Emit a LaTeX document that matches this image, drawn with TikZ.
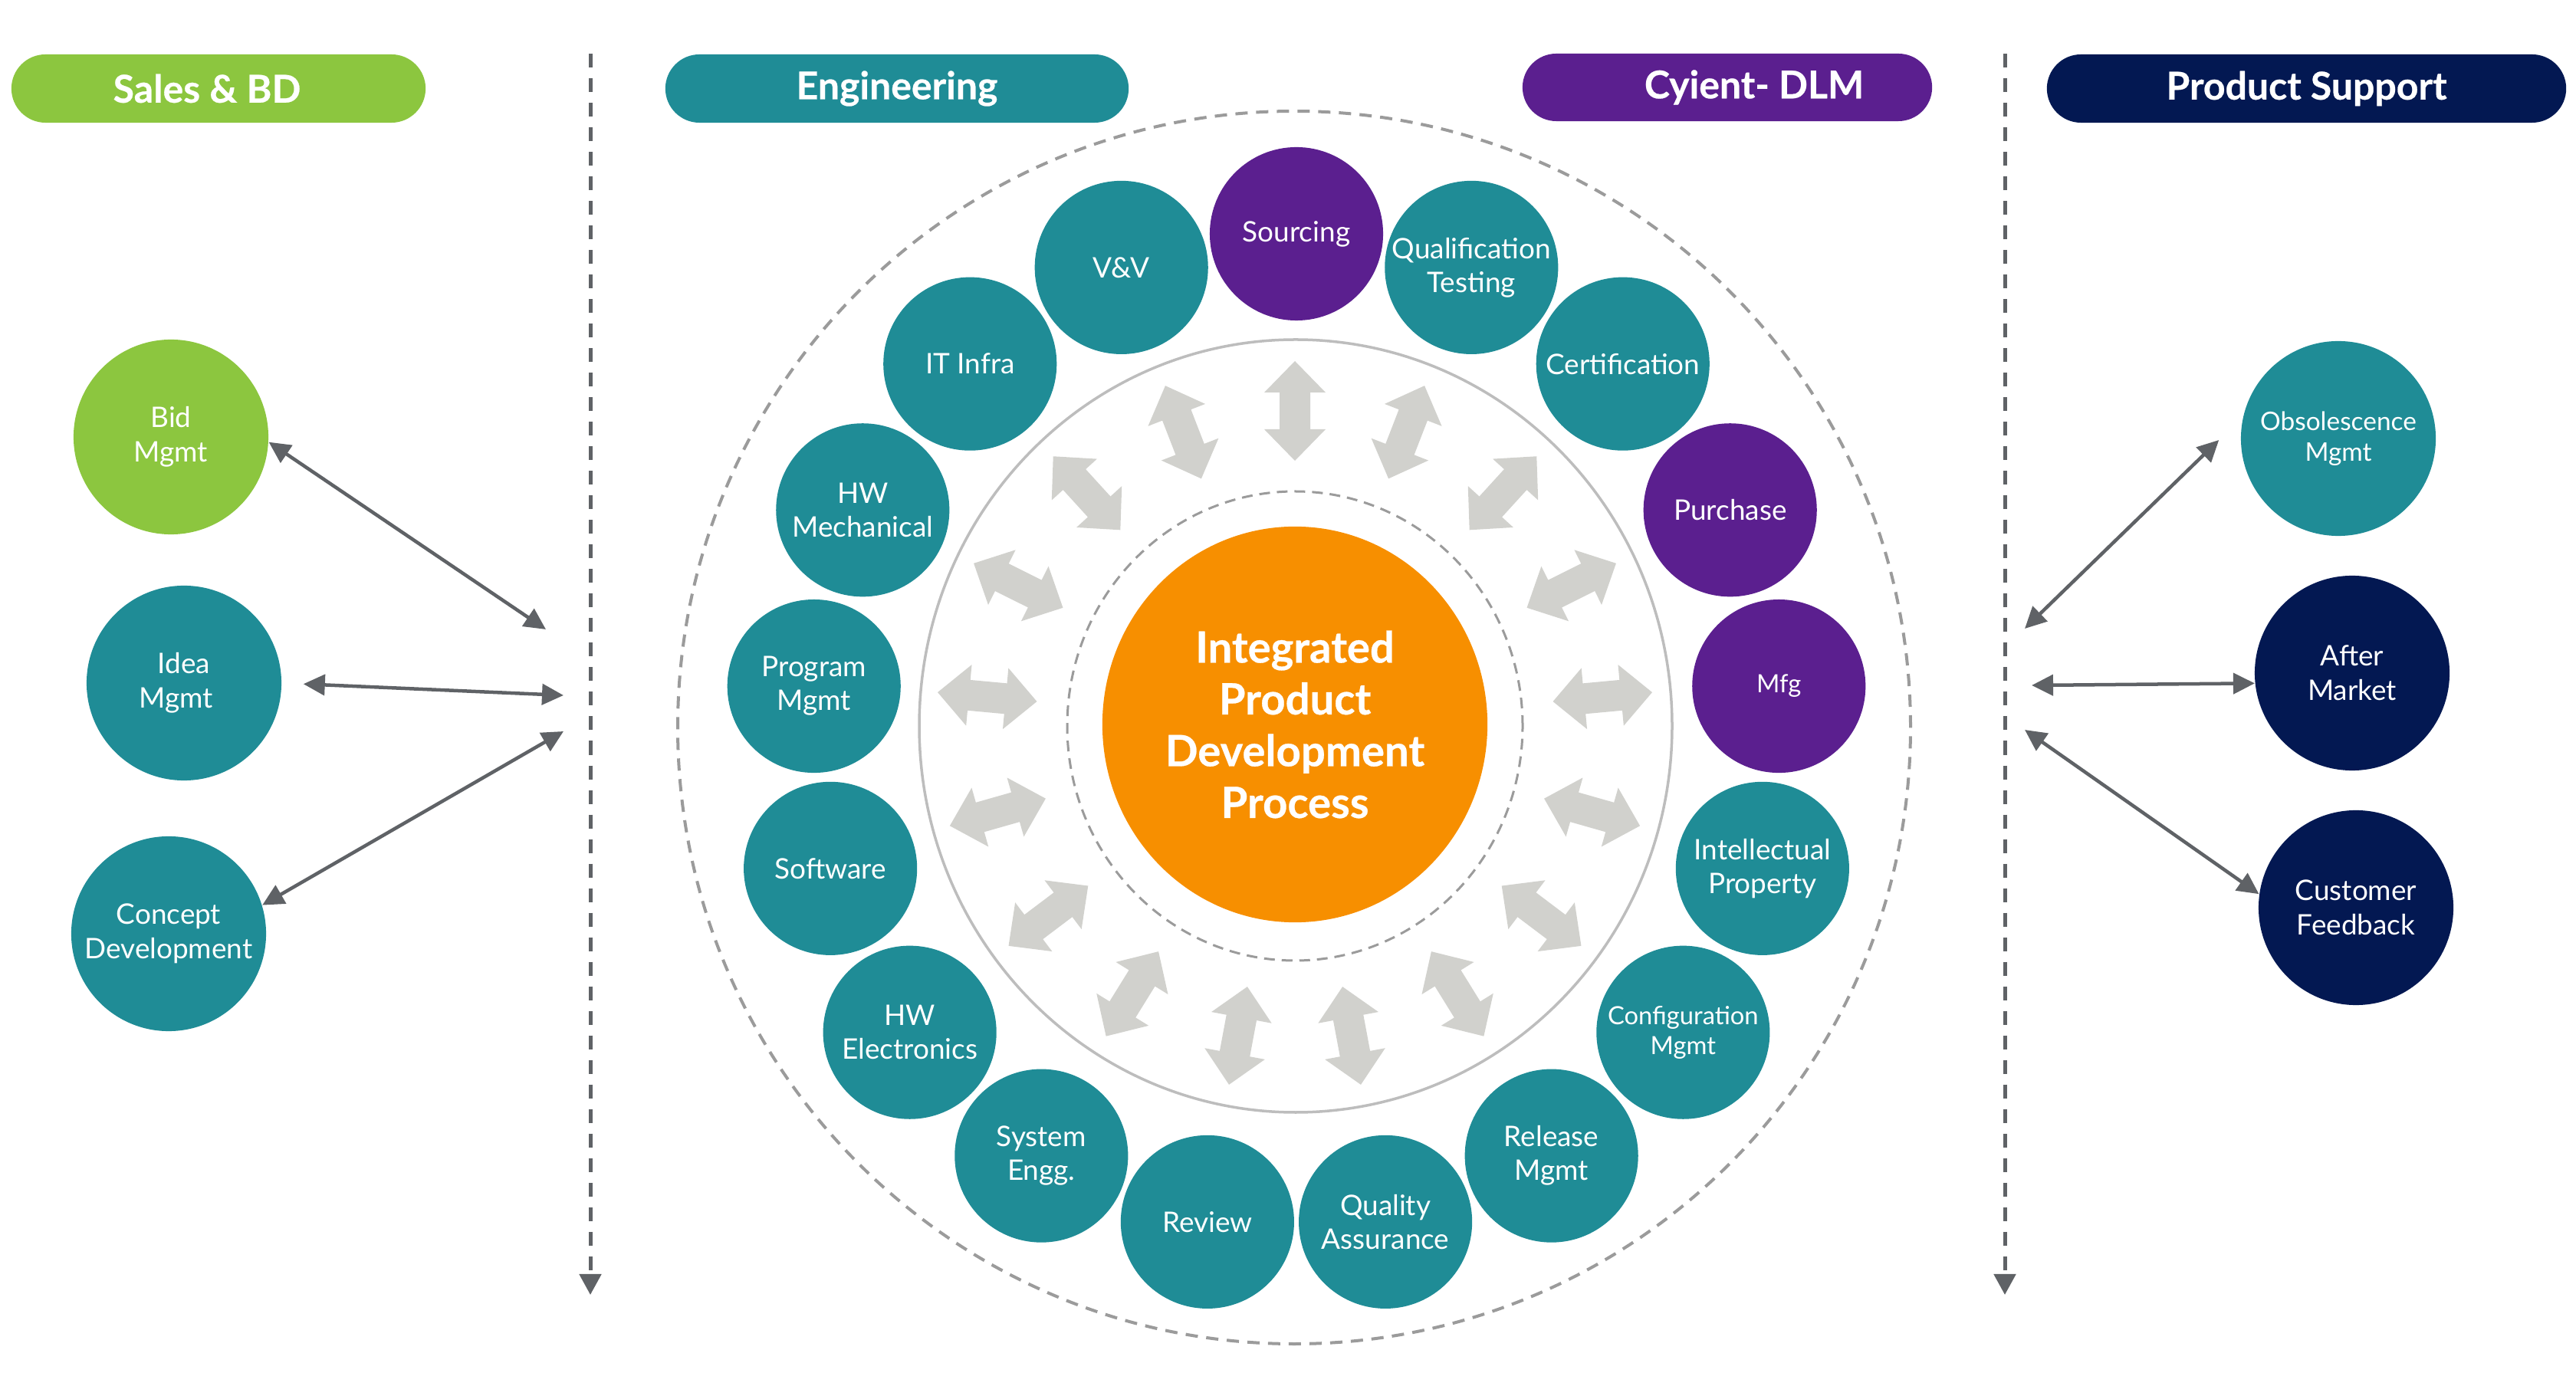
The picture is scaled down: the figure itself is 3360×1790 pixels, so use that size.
\documentclass[tikz,border=0pt]{standalone}
\usepackage{fontspec}
\setmainfont{Lato}
\newfontfamily\hvyfont{Lato}[FakeBold=0.5]
\usetikzlibrary{arrows.meta,shapes.geometric,shapes.misc,calc}
\definecolor{teal2}{HTML}{1F8C96}
\definecolor{purp}{HTML}{5B1F8F}
\definecolor{grn}{HTML}{8CC63F}
\definecolor{navy}{HTML}{031852}
\definecolor{orng}{HTML}{F78F00}
\definecolor{agray}{HTML}{D1D1CD}
\definecolor{rgray}{HTML}{BDBDBD}
\definecolor{dgray}{HTML}{9B9B9B}
\definecolor{cgray}{HTML}{5F6266}
\newcommand\rfn{\fontsize{10.5}{12.5}\selectfont}
\newcommand\sfn{\fontsize{9.3}{11.2}\selectfont}
\begin{document}
\begin{tikzpicture}[x=0.01cm,y=0.01cm,
  bar/.style={rounded rectangle, minimum height=0.89cm, inner sep=0pt, text=white, font=\hvyfont\fontsize{14.2}{16}\selectfont\bfseries},
  ringc/.style={circle, minimum size=2.26cm, inner sep=0pt, text=white, align=center},
  sidec/.style={circle, minimum size=2.54cm, inner sep=0pt, text=white, align=center, font=\fontsize{10.5}{12.7}\selectfont},
  conn/.style={draw=cgray, line width=0.045cm, {Triangle[length=0.28cm,width=0.27cm]}-{Triangle[length=0.28cm,width=0.27cm]}},
  vline/.style={draw=cgray, line width=0.05cm, dash pattern=on 0.18cm off 0.14cm, -{Triangle[length=0.27cm,width=0.28cm]}},
]
\useasboundingbox (0,0) rectangle (3360,1790);

% header bars
\node[bar, fill=grn, minimum width=5.40cm] (sales) at (285,1674.5) {Sales \& BD\kern0.3cm};
\node[bar, fill=teal2, minimum width=6.04cm] (eng) at (1170,1674.5) {Engineering};
\node[bar, fill=purp, minimum width=5.34cm, minimum height=0.88cm] (cyient) at (2253,1676) {\kern0.7cm Cyient- DLM};
\node[bar, fill=navy, minimum width=6.77cm] (ps) at (3008.5,1674.5) {Product Support};

% vertical dashed dividers
\coordinate (vla) at (770,1720); \coordinate (vlb) at (770,101);
\coordinate (vra) at (2615,1720); \coordinate (vrb) at (2615,101);
\draw[vline] (vla) -- (vlb);
\draw[vline] (vra) -- (vrb);

% rings
\draw[dgray, line width=0.04cm, dash pattern=on 0.16cm off 0.11cm] (1688,841) circle [radius=804];
\draw[rgray, line width=0.035cm] (1690,843) ellipse [x radius=491, y radius=504];
\draw[dgray, line width=0.03cm, dash pattern=on 0.14cm off 0.09cm] (1689,843) ellipse [x radius=297, y radius=306];

% radial double arrows
\foreach \k in {0,...,16}{
  \pgfmathsetmacro\a{90-\k*360/17}
  \fill[agray, shift={({1689+403*cos(\a)},{843+411*sin(\a)})}, rotate=\a]
    (-65,0) -- (-24,40) -- (-24,20) -- (24,20) -- (24,40) -- (65,0)
    -- (24,-40) -- (24,-20) -- (-24,-20) -- (-24,-40) -- cycle;
}

% centre
\node[ellipse, fill=orng, minimum width=5.02cm, minimum height=5.16cm, inner sep=0pt,
  text=white, align=center, font=\hvyfont\fontsize{16}{19.2}\selectfont\bfseries] (ipdp) at (1689,845)
  {Integrated\\Product\\Development\\Process};

% ring of functions
\foreach \k/\nm/\txt/\col/\fs in {
  0/src/Sourcing/purp/\rfn,
  1/qual/{Qualification\\Testing}/teal2/\rfn,
  2/cert/Certification/teal2/\rfn,
  3/purch/Purchase/purp/\rfn,
  4/mfg/Mfg/purp/\sfn,
  5/ip/{Intellectual\\Property}/teal2/\rfn,
  6/conf/{Configuration\\Mgmt}/teal2/\sfn,
  7/rel/{Release\\Mgmt}/teal2/\rfn,
  8/qa/{Quality\\Assurance}/teal2/\rfn,
  9/rev/Review/teal2/\rfn,
  10/sys/{System\\Engg.}/teal2/\rfn,
  11/hwe/{HW\\Electronics}/teal2/\rfn,
  12/sw/Software/teal2/\rfn,
  13/pgm/{Program\\Mgmt}/teal2/\rfn,
  14/hwm/{HW\\Mechanical}/teal2/\rfn,
  15/it/IT Infra/teal2/\rfn,
  16/vv/V\&V/teal2/\rfn}{
  \pgfmathsetmacro\a{90-\k*360/17}
  \node[ringc, fill=\col, font=\fs] (\nm) at ({1691+632*cos(\a)},{835+650*sin(\a)}) {\txt};
}

% left side
\node[sidec, fill=grn] (bid) at (223,1220) {Bid\\Mgmt};
\node[sidec, fill=teal2] (idea) at (240,899) {Idea\\Mgmt\kern0.2cm};
\node[sidec, fill=teal2] (concept) at (220,572) {Concept\\Development};

% right side
\node[sidec, fill=teal2, font=\fontsize{9.5}{11.5}\selectfont] (obs) at (3050,1218) {Obsolescence\\Mgmt};
\node[sidec, fill=navy] (after) at (3068,912) {After\\Market};
\node[sidec, fill=navy] (cust) at (3073,606) {Customer\\Feedback};

% connector free ends
\coordinate (lb) at (712,969);
\coordinate (li) at (735,883);
\coordinate (lc) at (735,836);
\coordinate (rb) at (2641,970);
\coordinate (ri) at (2650,896);
\coordinate (rc) at (2641,838);

\draw[conn] (bid.-3) -- (lb);
\draw[conn, shorten <=0.28cm] (idea.east) -- (li);
\draw[conn] (concept.17) -- (lc);
\draw[conn] (rb) -- ($(obs.west)+(-28,-2)$);
\draw[conn] (ri) -- (after.186);
\draw[conn] (rc) -- (cust.172);
\end{tikzpicture}
\end{document}
